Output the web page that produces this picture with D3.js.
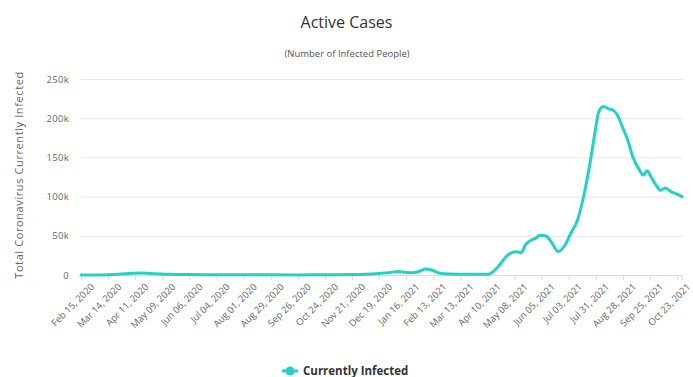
<!DOCTYPE html>
<html>
<head>
<meta charset="utf-8">
<script src="https://cdn.jsdelivr.net/npm/d3@7"></script>
<style>
  html, body { margin: 0; padding: 0; background: #fff; }
  svg { display: block; font-family: "Open Sans", "Noto Sans", sans-serif; }
</style>
</head>
<body>
<svg id="chart" width="693" height="377"></svg>
<script>
// Active case counts (Currently Infected) by date
const dates = [
  "2020-02-15","2020-03-07","2020-03-21","2020-04-04","2020-04-18","2020-05-02","2020-05-16",
  "2020-06-06","2020-07-04","2020-08-01","2020-09-26","2020-10-24","2020-11-21","2020-12-05",
  "2020-12-19","2020-12-29","2021-01-08","2021-01-15","2021-01-22","2021-01-29","2021-02-05",
  "2021-02-12","2021-02-19","2021-03-01","2021-03-20","2021-04-11","2021-04-21","2021-04-29",
  "2021-05-04","2021-05-10","2021-05-15","2021-05-19","2021-05-22","2021-05-26","2021-05-30",
  "2021-06-03","2021-06-09","2021-06-15","2021-06-22","2021-06-29","2021-07-05","2021-07-12",
  "2021-07-19","2021-07-25","2021-07-30","2021-08-03","2021-08-08","2021-08-13","2021-08-18",
  "2021-08-23","2021-08-28","2021-09-02","2021-09-07","2021-09-14","2021-09-18","2021-09-22",
  "2021-09-26","2021-10-01","2021-10-06","2021-10-11","2021-10-17","2021-10-21","2021-10-28"
];
const currentlyInfected = [
  0, 100, 600, 1800, 2400, 1700, 900,
  500, 300, 200, 150, 200, 500, 1000,
  2000, 3000, 4500, 3500, 2800, 4500, 7500,
  6000, 2500, 1200, 800, 1000, 10600, 23000,
  28000, 29500, 28500, 38000, 42000, 45000, 47000,
  50600, 50000, 42000, 30000, 38000, 53000, 70000,
  104000, 143000, 181000, 208000, 215000, 212000, 210000,
  202000, 187000, 172000, 151000, 134000, 127500, 133000,
  125000, 115000, 108000, 111000, 106000, 104000, 100000
];

// Category labels on the x axis (every 28 days)
const tickLabels = [
  "Feb 15, 2020","Mar 14, 2020","Apr 11, 2020","May 09, 2020","Jun 06, 2020","Jul 04, 2020",
  "Aug 01, 2020","Aug 29, 2020","Sep 26, 2020","Oct 24, 2020","Nov 21, 2020","Dec 19, 2020",
  "Jan 16, 2021","Feb 13, 2021","Mar 13, 2021","Apr 10, 2021","May 08, 2021","Jun 05, 2021",
  "Jul 03, 2021","Jul 31, 2021","Aug 28, 2021","Sep 25, 2021","Oct 23, 2021"
];
const yTicks = [0, 50000, 100000, 150000, 200000, 250000];

const seriesName = "Currently Infected";
const lineColor = "#22d3c5";

const parse = d3.utcParse("%Y-%m-%d");
const parseLabel = d3.utcParse("%b %d, %Y");
const data = dates.map((d, i) => ({ date: parse(d), value: currentlyInfected[i] }));

const svg = d3.select("#chart");
const plotLeft = 81, plotRight = 682, plotTop = 79, plotBottom = 275;

const x = d3.scaleUtc()
  .domain([data[0].date, data[data.length - 1].date])
  .range([plotLeft, plotRight]);
const y = d3.scaleLinear().domain([0, 250000]).range([plotBottom, plotTop]);

// Title and subtitle
svg.append("text")
  .attr("x", 346.5).attr("y", 28)
  .attr("text-anchor", "middle")
  .attr("font-size", 16).attr("fill", "#333")
  .text("Active Cases");
svg.append("text")
  .attr("x", 347).attr("y", 57)
  .attr("text-anchor", "middle")
  .attr("font-size", 9.5).attr("fill", "#555")
  .text("(Number of Infected People)");

// Horizontal gridlines + y labels
const yAxis = d3.axisLeft(y)
  .tickValues(yTicks)
  .tickSize(-(plotRight - plotLeft + 1))
  .tickPadding(12)
  .tickFormat(d => d === 0 ? "0" : (d / 1000) + "k");
const gy = svg.append("g").attr("transform", `translate(${plotLeft},0)`).call(yAxis);
gy.select(".domain").remove();
gy.selectAll(".tick line").attr("stroke", "#e8e8e8");
gy.selectAll(".tick text")
  .attr("fill", "#666").attr("font-size", 9.5)
  .attr("letter-spacing", 0.3)
  .attr("font-family", "'Open Sans', sans-serif");

// Y axis title
svg.append("text")
  .attr("transform", "translate(23,175) rotate(-90)")
  .attr("text-anchor", "middle")
  .attr("font-size", 11).attr("fill", "#666")
  .attr("letter-spacing", 0.6)
  .text("Total Coronavirus Currently Infected");

// X axis with rotated date labels
const xAxis = d3.axisBottom(x)
  .tickValues(tickLabels.map(parseLabel))
  .tickSize(5)
  .tickPadding(4)
  .tickFormat(d3.utcFormat("%b %d, %Y"));
const gx = svg.append("g").attr("transform", `translate(0,${plotBottom})`).call(xAxis);
gx.select(".domain").attr("stroke", "#dcdcdc");
gx.selectAll(".tick line").attr("stroke", "#dcdcdc");
gx.selectAll(".tick text")
  .attr("fill", "#666").attr("font-size", 9.5)
  .attr("font-family", "'Open Sans', sans-serif")
  .attr("text-anchor", "end")
  .attr("transform", "translate(3,2) rotate(-45)")
  .attr("dx", 0).attr("dy", "0.6em");

// Series line
const line = d3.line()
  .x(d => x(d.date))
  .y(d => y(d.value))
  .curve(d3.curveMonotoneX);
svg.append("path")
  .datum(data)
  .attr("d", line)
  .attr("fill", "none")
  .attr("stroke", lineColor)
  .attr("stroke-width", 3)
  .attr("stroke-linejoin", "round")
  .attr("stroke-linecap", "round");

// Legend
const lg = svg.append("g").attr("transform", "translate(282,371)");
lg.append("line").attr("x1", 0).attr("x2", 16).attr("y1", 0).attr("y2", 0)
  .attr("stroke", lineColor).attr("stroke-width", 3);
lg.append("circle").attr("cx", 8).attr("cy", 0).attr("r", 4.5).attr("fill", lineColor);
lg.append("text")
  .attr("x", 21).attr("y", 4)
  .attr("font-size", 11.5).attr("font-weight", "bold").attr("fill", "#333")
  .text(seriesName);
</script>
</body>
</html>
